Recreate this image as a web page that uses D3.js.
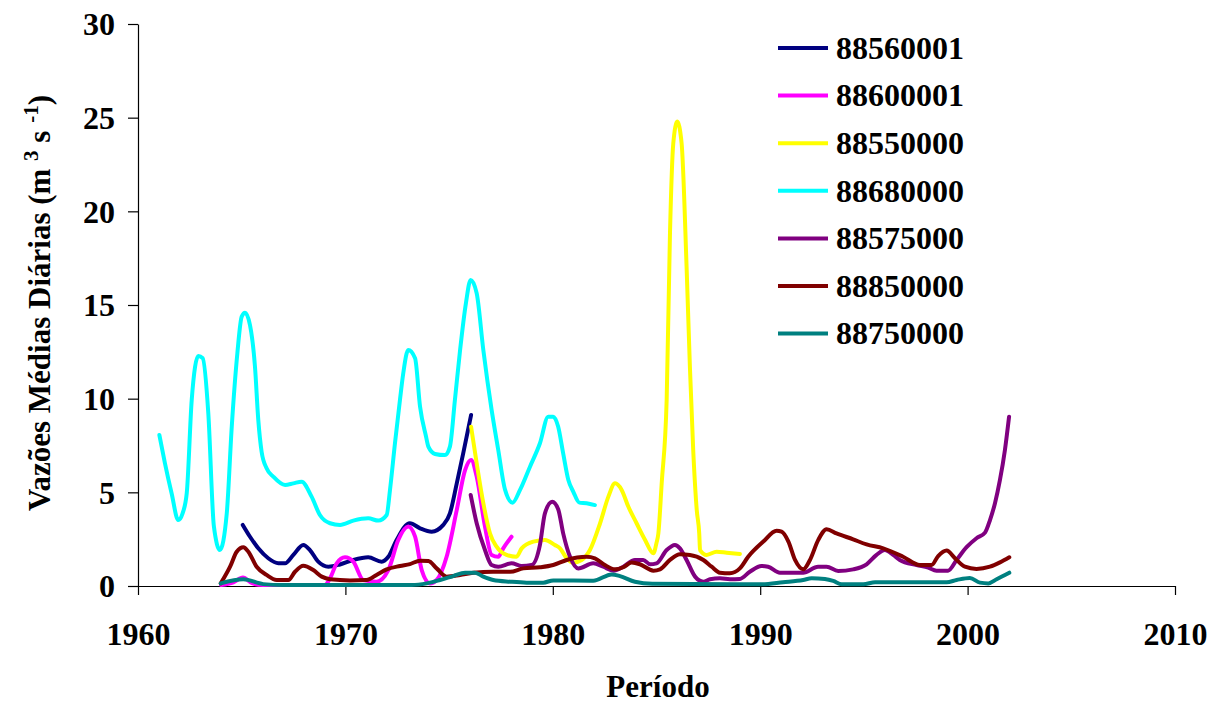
<!DOCTYPE html>
<html>
<head>
<meta charset="utf-8">
<script src="https://cdn.jsdelivr.net/npm/d3@7"></script>
<style>
  body { margin: 0; background: #fff; }
  svg text { font-family: "Liberation Serif", "Times New Roman", serif; font-weight: bold; }
</style>
</head>
<body>
<svg id="chart" width="1210" height="705"></svg>
<script>
// Series names (legend order = drawing order)
var stations = ["88560001", "88600001", "88550000", "88680000", "88575000", "88850000", "88750000"];
var colours = ["#000080", "#ff00ff", "#ffff00", "#00ffff", "#800080", "#800000", "#008080"];

var yearTicks = [1960, 1970, 1980, 1990, 2000, 2010];
var flowTicks = [0, 5, 10, 15, 20, 25, 30];

// [year, flow]
var s88560001 = [[1965.05,3.26],[1965.4,2.63],[1965.8,2.01],[1966.28,1.48],[1966.77,1.21],[1967.09,1.21],[1967.49,1.66],[1967.97,2.19],[1968.29,1.92],[1968.69,1.3],[1969.18,1.03],[1969.74,1.15],[1970.38,1.39],[1971.1,1.53],[1971.75,1.3],[1972.07,1.56],[1972.47,2.46],[1973.11,3.35],[1973.6,3.08],[1974.16,2.9],[1974.72,3.26],[1975.04,3.88],[1975.37,5.48],[1975.68,7.08],[1976.06,9.13]];

var s88600001 = [[1964.0,0.05],[1964.6,0.2],[1965.06,0.45],[1965.5,0.15],[1966.0,0.05],[1969.0,0.05],[1969.26,0.41],[1969.58,1.21],[1969.98,1.53],[1970.38,1.3],[1970.86,0.32],[1971.5,0.23],[1972.07,0.85],[1972.55,2.46],[1973.03,3.17],[1973.36,2.63],[1973.68,0.85],[1974.08,0.14],[1974.4,0.32],[1974.88,1.56],[1975.37,4.06],[1975.77,6.19],[1976.06,6.73],[1976.33,5.84],[1976.73,3.17],[1977.05,1.66],[1977.37,1.56],[1977.61,2.01],[1978.01,2.63]];

var s88550000 = [[1976.06,8.5],[1976.33,6.55],[1976.65,4.42],[1976.97,2.81],[1977.29,2.1],[1977.77,1.66],[1978.25,1.56],[1978.5,2.01],[1979.06,2.37],[1979.62,2.46],[1980.1,2.19],[1980.35,2.01],[1980.67,1.48],[1980.99,1.25],[1981.39,1.39],[1981.79,1.92],[1982.28,3.35],[1982.68,4.77],[1983.0,5.48],[1983.32,5.13],[1983.64,4.24],[1984.04,3.35],[1984.45,2.46],[1984.85,1.75],[1985.0,2.3],[1985.09,2.81],[1985.25,5.48],[1985.49,9.93],[1985.65,18.83],[1985.81,23.64],[1986.0,24.79],[1986.21,23.64],[1986.45,17.05],[1986.61,11.71],[1986.77,7.26],[1986.94,4.06],[1987.06,2.81],[1987.1,1.92],[1987.42,1.66],[1987.9,1.83],[1988.38,1.78],[1989.02,1.71]];

var s88680000 = [[1961.03,8.06],[1961.3,6.55],[1961.62,4.95],[1961.94,3.52],[1962.15,3.88],[1962.35,4.95],[1962.59,9.93],[1962.91,12.28],[1963.12,12.16],[1963.39,9.22],[1963.66,3.17],[1963.95,1.92],[1964.28,3.88],[1964.52,8.5],[1964.79,12.42],[1965.0,14.38],[1965.16,14.59],[1965.4,13.93],[1965.64,11.71],[1965.8,8.86],[1965.96,7.17],[1966.2,6.28],[1966.52,5.84],[1967.09,5.39],[1967.49,5.48],[1967.89,5.57],[1968.37,4.77],[1968.77,3.79],[1969.26,3.35],[1969.74,3.26],[1970.38,3.49],[1971.1,3.61],[1971.59,3.49],[1971.99,3.79],[1972.15,5.13],[1972.39,7.62],[1972.63,9.93],[1972.79,11.36],[1973.03,12.6],[1973.36,12.16],[1973.6,9.57],[1973.89,7.97],[1974.0,7.44],[1974.32,7.05],[1974.8,6.99],[1975.04,7.44],[1975.28,9.93],[1975.53,12.6],[1975.81,15.09],[1976.04,16.34],[1976.33,15.63],[1976.65,12.6],[1977.05,9.4],[1977.37,7.26],[1977.7,5.13],[1978.06,4.45],[1978.42,5.13],[1978.9,6.37],[1979.38,7.62],[1979.78,9.04],[1980.02,9.04],[1980.26,8.5],[1980.5,7.08],[1980.75,5.66],[1980.99,5.03],[1981.28,4.45],[1981.63,4.42],[1982.03,4.32]];

var s88575000 = [[1976.04,4.86],[1976.33,3.35],[1976.73,1.92],[1977.05,1.12],[1977.37,1.03],[1978.01,1.21],[1978.5,1.07],[1978.98,1.12],[1979.38,2.2],[1979.62,3.88],[1979.97,4.5],[1980.26,4.1],[1980.5,2.81],[1980.83,1.56],[1981.23,0.94],[1981.95,1.21],[1982.43,1.03],[1982.92,0.82],[1983.4,1.03],[1983.96,1.39],[1984.36,1.39],[1984.69,1.16],[1985.0,1.21],[1985.49,1.92],[1985.89,2.19],[1986.13,2.01],[1986.45,1.39],[1986.86,0.5],[1987.26,0.23],[1987.58,0.36],[1988.06,0.41],[1988.54,0.36],[1989.02,0.38],[1989.5,0.76],[1990.06,1.07],[1990.38,1.03],[1990.95,0.71],[1992.07,0.71],[1992.79,1.03],[1993.2,1.03],[1993.76,0.8],[1994.48,0.89],[1995.13,1.16],[1995.61,1.66],[1996.01,1.92],[1996.41,1.66],[1996.73,1.39],[1997.54,1.12],[1998.1,0.98],[1998.5,0.82],[1999.06,0.82],[1999.47,1.39],[1999.95,2.07],[2000.43,2.55],[2000.84,2.85],[2001.08,3.52],[2001.32,4.42],[2001.56,5.66],[2001.8,7.26],[2002.0,9.04]];

var s88850000 = [[1963.99,0.14],[1964.44,1.03],[1964.76,1.83],[1965.08,2.07],[1965.32,1.83],[1965.72,1.03],[1966.2,0.59],[1966.69,0.32],[1967.25,0.32],[1967.57,0.76],[1967.97,1.08],[1968.45,0.85],[1968.86,0.5],[1969.26,0.36],[1970.22,0.3],[1971.02,0.32],[1971.5,0.59],[1971.99,0.89],[1972.63,1.07],[1973.11,1.17],[1973.6,1.35],[1974.0,1.33],[1974.4,0.94],[1974.88,0.5],[1975.53,0.59],[1976.17,0.71],[1977.13,0.76],[1977.94,0.76],[1978.58,0.94],[1979.38,1.0],[1980.02,1.12],[1980.67,1.39],[1981.63,1.56],[1982.03,1.48],[1982.51,1.12],[1983.0,0.89],[1983.4,1.0],[1983.8,1.25],[1984.2,1.16],[1984.85,0.82],[1985.17,0.89],[1985.65,1.39],[1986.13,1.69],[1986.61,1.66],[1987.26,1.39],[1987.66,1.03],[1988.06,0.71],[1988.54,0.68],[1989.02,0.94],[1989.42,1.56],[1990.15,2.37],[1990.79,2.95],[1991.03,2.9],[1991.36,2.37],[1991.68,1.39],[1992.07,0.89],[1992.4,1.39],[1992.8,2.46],[1993.2,3.03],[1993.68,2.81],[1994.48,2.49],[1995.13,2.22],[1995.93,2.01],[1996.89,1.56],[1997.7,1.12],[1998.26,1.12],[1998.58,1.6],[1998.99,1.89],[1999.39,1.48],[1999.87,1.03],[2000.43,0.91],[2001.08,1.03],[2001.56,1.26],[2002.01,1.53]];

var s88750000 = [[1963.99,0.14],[1965.08,0.36],[1966.04,0.1],[1967,0.05],[1973.2,0.05],[1973.92,0.14],[1974.56,0.32],[1975.2,0.53],[1975.77,0.71],[1976.25,0.71],[1976.65,0.5],[1977.13,0.32],[1977.94,0.23],[1978.74,0.18],[1979.54,0.18],[1980.02,0.3],[1981.95,0.28],[1982.84,0.62],[1983.24,0.53],[1983.96,0.23],[1984.8,0.12],[1990.1,0.09],[1991.1,0.2],[1992.07,0.32],[1992.48,0.41],[1993.12,0.37],[1993.52,0.27],[1993.93,0.09],[1994.97,0.09],[1995.54,0.2],[1998.99,0.2],[1999.47,0.32],[2000.11,0.43],[2000.6,0.18],[2001.0,0.14],[2001.4,0.36],[2002.01,0.71]];

var seriesData = [s88560001, s88600001, s88550000, s88680000, s88575000, s88850000, s88750000];

var svg = d3.select("#chart");
var margin = {left: 138, right: 35, top: 24, bottom: 119};
var width = 1210 - margin.left - margin.right,
    height = 705 - margin.top - margin.bottom;

var x = d3.scaleLinear().domain([1960, 2010]).range([0, width]);
var y = d3.scaleLinear().domain([0, 30]).range([height, 0]);

var g = svg.append("g").attr("transform", "translate(" + margin.left + "," + margin.top + ")");

// Axes
var xAxis = g.append("g")
  .attr("transform", "translate(0," + height + ")")
  .call(d3.axisBottom(x).tickValues(yearTicks).tickFormat(d3.format("d")).tickSize(9).tickSizeOuter(0));
var yAxis = g.append("g")
  .call(d3.axisLeft(y).tickValues(flowTicks).tickSize(10).tickSizeOuter(0).tickPadding(13));

[xAxis, yAxis].forEach(function(a) {
  a.selectAll("path, line").attr("stroke", "#000").attr("stroke-width", 1.2);
  a.selectAll("text").attr("fill", "#000").style("font-size", "32px");
});
// year labels sit well below the ticks, baseline ~59px under the axis
xAxis.selectAll("text").attr("y", 59).attr("dy", 0);
yAxis.selectAll("text").attr("dy", "0.34em");

// Lines
var line = d3.line()
  .x(function(d) { return x(d[0]); })
  .y(function(d) { return y(d[1]); })
  .curve(d3.curveMonotoneX);

g.append("g").selectAll("path")
  .data(seriesData)
  .enter()
  .append("path")
    .attr("d", line)
    .attr("fill", "none")
    .attr("stroke", function(d, i) { return colours[i]; })
    .attr("stroke-width", 4)
    .attr("stroke-linejoin", "round")
    .attr("stroke-linecap", "round");

// Axis titles
svg.append("text")
  .attr("x", 658).attr("y", 697)
  .attr("text-anchor", "middle")
  .style("font-size", "31px")
  .text("Período");

var yTitle = svg.append("text")
  .attr("transform", "translate(50,303) rotate(-90)")
  .attr("text-anchor", "middle")
  .style("font-size", "31px");
yTitle.append("tspan").text("Vazões Médias Diárias (m ");
yTitle.append("tspan").attr("dy", -12).style("font-size", "21px").text("3");
yTitle.append("tspan").attr("dy", 12).text(" s ");
yTitle.append("tspan").attr("dy", -12).style("font-size", "21px").text("-1");
yTitle.append("tspan").attr("dy", 12).text(")");

// Legend
var legend = svg.append("g").selectAll("g")
  .data(stations)
  .enter()
  .append("g")
    .attr("transform", function(d, i) { return "translate(778," + (48 + i * 47.6) + ")"; });
legend.append("line")
  .attr("x1", 0).attr("x2", 50)
  .attr("stroke", function(d, i) { return colours[i]; })
  .attr("stroke-width", 4);
legend.append("text")
  .attr("x", 58).attr("dy", "0.34em")
  .style("font-size", "32px")
  .text(function(d) { return d; });
</script>
</body>
</html>
